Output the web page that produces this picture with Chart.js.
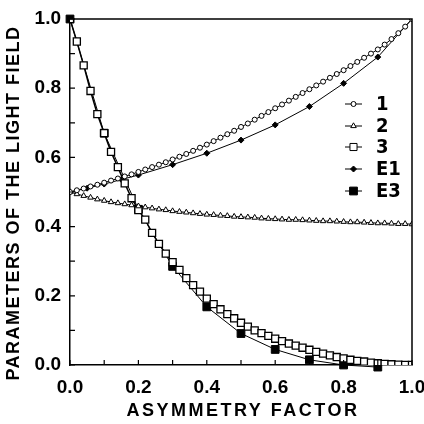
<!DOCTYPE html>
<html>
<head>
<meta charset="utf-8">
<script src="https://cdn.jsdelivr.net/npm/chart.js"></script>
<style>
  html, body { margin: 0; padding: 0; background: #fff; }
  canvas { display: block; }
</style>
</head>
<body>
<canvas id="chart" width="424" height="424"></canvas>
<script>
// asymmetry factor grid used by the computed curves (1, 2, 3)
const xFine = [0.00, 0.02, 0.04, 0.06, 0.08, 0.10, 0.12, 0.14, 0.16, 0.18,
               0.20, 0.22, 0.24, 0.26, 0.28, 0.30, 0.32, 0.34, 0.36, 0.38,
               0.40, 0.42, 0.44, 0.46, 0.48, 0.50, 0.52, 0.54, 0.56, 0.58,
               0.60, 0.62, 0.64, 0.66, 0.68, 0.70, 0.72, 0.74, 0.76, 0.78,
               0.80, 0.82, 0.84, 0.86, 0.88, 0.90, 0.92, 0.94, 0.96, 0.98, 1.00];

const curve1 = [0.500, 0.505, 0.510, 0.516, 0.521, 0.527, 0.533, 0.539, 0.545, 0.551,
                0.558, 0.565, 0.572, 0.579, 0.586, 0.594, 0.602, 0.610, 0.619, 0.628,
                0.637, 0.647, 0.657, 0.667, 0.677, 0.688, 0.698, 0.709, 0.720, 0.731,
                0.742, 0.753, 0.764, 0.775, 0.786, 0.797, 0.808, 0.819, 0.830, 0.841,
                0.852, 0.864, 0.876, 0.888, 0.900, 0.912, 0.926, 0.942, 0.959, 0.978, 1.000];

const curve2 = [0.500, 0.494, 0.489, 0.484, 0.479, 0.475, 0.471, 0.468, 0.465, 0.462,
                0.459, 0.456, 0.453, 0.450, 0.448, 0.445, 0.443, 0.441, 0.439, 0.437,
                0.435, 0.434, 0.432, 0.431, 0.429, 0.428, 0.427, 0.426, 0.424, 0.423,
                0.422, 0.421, 0.420, 0.420, 0.419, 0.418, 0.417, 0.416, 0.416, 0.415,
                0.414, 0.413, 0.413, 0.412, 0.411, 0.410, 0.410, 0.409, 0.408, 0.408, 0.407];

const curve3 = [1.000, 0.935, 0.866, 0.792, 0.725, 0.670, 0.616, 0.572, 0.525, 0.482,
                0.448, 0.420, 0.382, 0.350, 0.322, 0.297, 0.275, 0.251, 0.231, 0.212,
                0.192, 0.176, 0.161, 0.147, 0.135, 0.122, 0.111, 0.100, 0.092, 0.084,
                0.076, 0.069, 0.062, 0.056, 0.050, 0.044, 0.038, 0.033, 0.028, 0.023,
                0.019, 0.015, 0.012, 0.010, 0.007, 0.005, 0.003, 0.002, 0.001, 0.000, 0.000];

// experimental points
const xE1 = [0.00, 0.05, 0.10, 0.15, 0.20, 0.30, 0.40, 0.50, 0.60, 0.70, 0.80, 0.90, 1.00];
const e1  = [0.500, 0.511, 0.523, 0.536, 0.549, 0.579, 0.612, 0.650, 0.694, 0.747, 0.814, 0.890, 1.000];

const xE3 = [0.00, 0.10, 0.20, 0.30, 0.40, 0.50, 0.60, 0.70, 0.80, 0.90];
const e3  = [1.000, 0.670, 0.450, 0.285, 0.168, 0.091, 0.045, 0.015, 0.000, -0.006];

const seriesNames = ['1', '2', '3', 'E1', 'E3'];
const axisTicks = [0, 0.1, 0.2, 0.3, 0.4, 0.5, 0.6, 0.7, 0.8, 0.9, 1.0];

function pts(xs, ys) {
    return xs.map((x, i) => ({ x: x, y: ys[i] }));
}

const tickFont = { family: "'Liberation Sans', Arial, sans-serif", size: 19, weight: 'bold' };

// frame, inward minor ticks, axis titles and the legend
const decorations = {
    id: 'decorations',
    afterDraw(chart) {
        const ctx = chart.ctx;
        const a = chart.chartArea;
        const xs = chart.scales.x, ys = chart.scales.y;
        ctx.save();
        ctx.strokeStyle = '#000';
        ctx.lineWidth = 1.5;
        ctx.beginPath();
        ctx.moveTo(a.left, a.top);
        ctx.lineTo(a.right, a.top);
        ctx.lineTo(a.right, a.bottom);
        ctx.stroke();

        ctx.lineWidth = 1.2;
        ctx.beginPath();
        axisTicks.forEach(v => {
            const px = xs.getPixelForValue(v);
            ctx.moveTo(px, a.bottom);
            ctx.lineTo(px, a.bottom - 5);
            const py = ys.getPixelForValue(v);
            ctx.moveTo(a.left, py);
            ctx.lineTo(a.left + 5, py);
        });
        ctx.stroke();

        // axis titles
        ctx.fillStyle = '#000';
        ctx.textAlign = 'center';
        ctx.textBaseline = 'middle';
        ctx.font = "bold 18px 'Liberation Sans', Arial, sans-serif";
        ctx.letterSpacing = '2.5px';
        ctx.fillText('ASYMMETRY FACTOR', (a.left + a.right) / 2 + 2, 411);
        ctx.save();
        ctx.translate(14, 203);
        ctx.rotate(-Math.PI / 2);
        ctx.letterSpacing = '1.5px';
        ctx.fillText('PARAMETERS OF THE LIGHT FIELD', 0, 0);
        ctx.restore();
        ctx.letterSpacing = '0px';

        // legend
        const rowY = [104, 126, 147, 169, 191];
        chart.data.datasets.forEach((ds, i) => {
            const y = rowY[i];
            ctx.strokeStyle = '#000';
            ctx.lineWidth = 1;
            ctx.beginPath();
            ctx.moveTo(345, y);
            ctx.lineTo(362, y);
            ctx.stroke();
            ctx.fillStyle = ds.pointBackgroundColor;
            ctx.strokeStyle = '#000';
            Chart.helpers.drawPoint(ctx, {
                pointStyle: ds.pointStyle,
                radius: ds.pointRadius,
                rotation: 0,
                borderWidth: ds.pointBorderWidth
            }, 353.5, y);
            ctx.fillStyle = '#000';
            ctx.textAlign = 'left';
            ctx.font = "bold 20px 'Liberation Sans Narrow', 'DejaVu Sans Condensed', 'Liberation Sans', sans-serif";
            ctx.fillText(ds.label, 376, y + 1);
        });
        ctx.restore();
    }
};

new Chart(document.getElementById('chart'), {
    type: 'line',
    data: {
        datasets: [
            {
                label: seriesNames[0],
                data: pts(xFine, curve1),
                borderColor: '#000', borderWidth: 1,
                pointStyle: 'circle', pointRadius: 2.5,
                pointBackgroundColor: '#fff', pointBorderColor: '#000', pointBorderWidth: 1
            },
            {
                label: seriesNames[1],
                data: pts(xFine, curve2),
                borderColor: '#000', borderWidth: 1,
                pointStyle: 'triangle', pointRadius: 3.2,
                pointBackgroundColor: '#fff', pointBorderColor: '#000', pointBorderWidth: 1
            },
            {
                label: seriesNames[2],
                data: pts(xFine, curve3),
                borderColor: '#000', borderWidth: 1.5,
                pointStyle: 'rect', pointRadius: 5,
                pointBackgroundColor: '#fff', pointBorderColor: '#000', pointBorderWidth: 1.3
            },
            {
                label: seriesNames[3],
                data: pts(xE1, e1),
                borderColor: '#000', borderWidth: 1,
                pointStyle: 'rectRot', pointRadius: 3,
                pointBackgroundColor: '#000', pointBorderColor: '#000', pointBorderWidth: 1
            },
            {
                label: seriesNames[4],
                data: pts(xE3, e3),
                borderColor: '#000', borderWidth: 1,
                pointStyle: 'rect', pointRadius: 5.5,
                pointBackgroundColor: '#000', pointBorderColor: '#000', pointBorderWidth: 1,
                clip: false
            }
        ]
    },
    options: {
        responsive: false,
        animation: false,
        layout: { padding: { top: 19, right: 12, left: 0, bottom: 0 } },
        plugins: { legend: { display: false }, tooltip: { enabled: false } },
        elements: { line: { tension: 0 } },
        scales: {
            x: {
                type: 'linear', min: 0, max: 1,
                grid: { display: false },
                border: { display: true, color: '#000', width: 1.5 },
                ticks: {
                    stepSize: 0.1, autoSkip: false, maxRotation: 0, padding: 3,
                    color: '#000', font: tickFont,
                    callback: v => Math.round(v * 10) % 2 === 0 ? v.toFixed(1) : ''
                },
                afterFit: s => { s.height = 59; s.paddingLeft = 0; s.paddingRight = 0; }
            },
            y: {
                type: 'linear', min: 0, max: 1,
                grid: { display: false },
                border: { display: true, color: '#000', width: 1.5 },
                ticks: {
                    stepSize: 0.1, autoSkip: false, padding: 1,
                    color: '#000', font: tickFont,
                    callback: v => Math.round(v * 10) % 2 === 0 ? v.toFixed(1) : ''
                },
                afterFit: s => { s.width = 70; }
            }
        }
    },
    plugins: [decorations]
});
</script>
</body>
</html>
